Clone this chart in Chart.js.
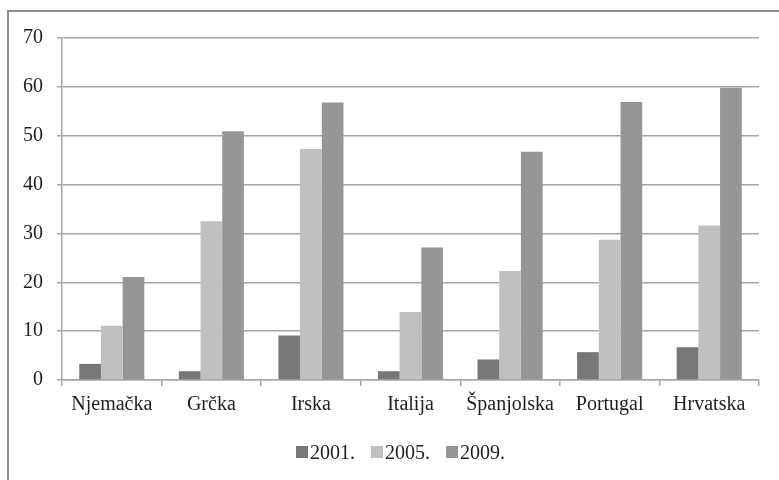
<!DOCTYPE html>
<html>
<head>
<meta charset="utf-8">
<script src="https://cdn.jsdelivr.net/npm/chart.js@4/dist/chart.umd.min.js"></script>
<style>
  html, body { margin: 0; padding: 0; background: #ffffff; }
  canvas { display: block; }
</style>
</head>
<body>
<canvas id="c" width="779" height="480"></canvas>
<script>
const categories = ['Njemačka', 'Grčka', 'Irska', 'Italija', 'Španjolska', 'Portugal', 'Hrvatska'];
const seriesLabels = ['2001.', '2005.', '2009.'];
const values2001 = [3.3, 1.8, 9.1, 1.8, 4.2, 5.7, 6.7];
const values2005 = [11.1, 32.5, 47.3, 13.9, 22.3, 28.7, 31.6];
const values2009 = [21.1, 50.9, 56.8, 27.1, 46.7, 56.9, 59.8];
const yTicks = [0, 10, 20, 30, 40, 50, 60, 70];

const FONT = 'Liberation Serif, Times New Roman, serif';
const FONT_SIZE = 20;
const TEXT = '#1e1e1e';
const GRID = '#a6a6a6';
const colors = ['#777777', '#c0c0c0', '#969696'];

// outer frame of the chart object
const framePlugin = {
  id: 'frame',
  beforeDraw(chart) {
    const ctx = chart.ctx;
    ctx.save();
    ctx.fillStyle = '#ffffff';
    ctx.fillRect(0, 0, chart.width, chart.height);
    ctx.strokeStyle = '#8e8e8e';
    ctx.lineWidth = 2;
    ctx.strokeRect(8, 11, chart.width + 20, chart.height + 20);
    ctx.restore();
  }
};

// compact legend: square swatch with the label right next to it
const legendPlugin = {
  id: 'compactLegend',
  afterDraw(chart) {
    const ctx = chart.ctx;
    ctx.save();
    ctx.font = FONT_SIZE + 'px ' + FONT;
    ctx.textBaseline = 'alphabetic';
    const box = 12, gap = 2, spacing = 16;
    let x = 296;
    const baseline = 459;
    chart.data.datasets.forEach(ds => {
      ctx.fillStyle = ds.backgroundColor;
      ctx.fillRect(x, baseline - 13, box, box);
      ctx.fillStyle = TEXT;
      ctx.fillText(ds.label, x + box + gap, baseline);
      x += box + gap + ctx.measureText(ds.label).width + spacing;
    });
    ctx.restore();
  }
};

new Chart(document.getElementById('c'), {
  type: 'bar',
  data: {
    labels: categories,
    datasets: [
      { label: seriesLabels[0], data: values2001, backgroundColor: colors[0] },
      { label: seriesLabels[1], data: values2005, backgroundColor: colors[1] },
      { label: seriesLabels[2], data: values2009, backgroundColor: colors[2] }
    ]
  },
  options: {
    responsive: false,
    devicePixelRatio: 1,
    animation: false,
    layout: { padding: { left: 0, top: 38, right: 20, bottom: 0 } },
    datasets: { bar: { categoryPercentage: 0.654, barPercentage: 1.0 } },
    plugins: {
      legend: { display: false },
      tooltip: { enabled: false },
      title: { display: false }
    },
    scales: {
      x: {
        offset: true,
        grid: { display: true, drawOnChartArea: false, offset: true, tickLength: 6, color: GRID, lineWidth: 1.5 },
        border: { display: true, color: GRID, width: 1.5 },
        ticks: { color: TEXT, font: { family: FONT, size: FONT_SIZE }, padding: 7, maxRotation: 0, autoSkip: false },
        afterFit(scale) { scale.height = 100; }
      },
      y: {
        min: 0,
        max: 70,
        afterBuildTicks(scale) { scale.ticks = yTicks.map(v => ({ value: v })); },
        grid: { color: GRID, lineWidth: 1.5, tickLength: 5 },
        border: { display: true, color: GRID, width: 1.5 },
        ticks: { color: TEXT, font: { family: FONT, size: FONT_SIZE }, padding: 14 },
        afterFit(scale) { scale.width = 62; }
      }
    }
  },
  plugins: [framePlugin, legendPlugin]
});
</script>
</body>
</html>
